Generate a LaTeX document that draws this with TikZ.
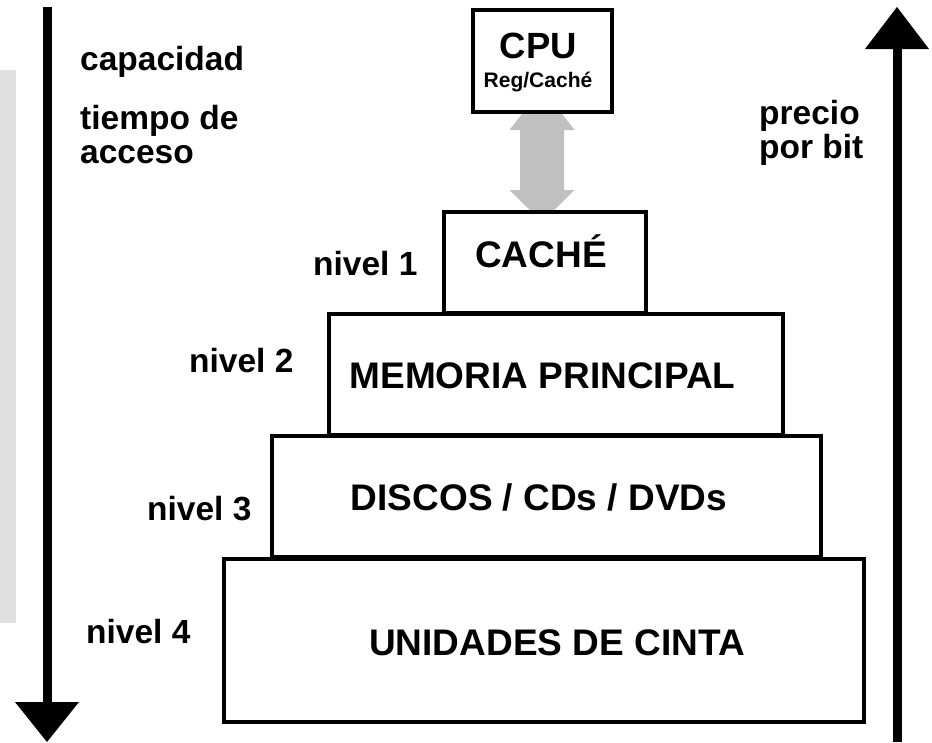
\documentclass[tikz,border=0pt]{standalone}
\usepackage{fontspec}
\setmainfont{Liberation Sans}
\usetikzlibrary{calc}
\definecolor{sidegray}{RGB}{224,224,224}
\definecolor{arrowgray}{RGB}{192,192,192}
\begin{document}
\begin{tikzpicture}[x=1pt,y=-1pt,
  box/.style={draw, line width=4pt, fill=white, inner sep=0pt, rectangle},
  lbl/.style={font=\bfseries\fontsize{33.5}{34}\selectfont, inner sep=0pt, anchor=base west},
  boxtxt/.style={font=\bfseries\fontsize{37}{37}\selectfont, inner sep=0pt, anchor=base},
  bigarrow/.style={line width=9pt}]
\useasboundingbox (0,0) rectangle (932,742);

% side gray band
\fill[sidegray] (0,70) rectangle (16,623);

% left arrow (down)
\coordinate (ltop) at (47,7);
\coordinate (lbase) at (47,702);
\coordinate (ltip) at (47,742);
\draw[bigarrow] (ltop) -- (lbase);
\fill ($(lbase)+(-32,0)$) -- ($(lbase)+(32,0)$) -- (ltip) -- cycle;

% right arrow (up)
\coordinate (rbot) at (897,742);
\coordinate (rbase) at (897,49);
\coordinate (rtip) at (897,7);
\draw[bigarrow] (rbot) -- (rbase);
\fill ($(rbase)+(-32,0)$) -- ($(rbase)+(32,0)$) -- (rtip) -- cycle;

% coordinates for boxes
\coordinate (cpuc) at (542.5,61);
\coordinate (cachec) at (545,262.5);

% gray double arrow (behind boxes)
\fill[arrowgray]
  (542,88) -- (574.5,130) -- (564,130) -- (564,190) -- (574.5,190)
  -- (542,222) -- (509.5,190) -- (520,190) -- (520,130) -- (509.5,130) -- cycle;

% boxes
\node[box, minimum width=640pt, minimum height=163pt] (cinta) at (544,640.5) {};
\node[box, minimum width=549pt, minimum height=121pt] (discos) at (546.5,496.5) {};
\node[box, minimum width=454pt, minimum height=121pt] (mem) at (556,374.5) {};
\node[box, minimum width=202pt, minimum height=101pt] (cache) at (cachec) {};
\node[box, minimum width=139pt, minimum height=102pt] (cpu) at (cpuc) {};

% box texts
\node[boxtxt, font=\bfseries\fontsize{36.5}{37}\selectfont] (cputxt) at (538.5,58) {CPU};
\node[boxtxt, font=\bfseries\fontsize{21}{21}\selectfont] (regtxt) at (538,87) {Reg/Caché};
\node[boxtxt] (cachetxt) at (541,267) {CACHÉ};
\node[boxtxt] (memtxt) at (542.5,388) {MEMORIA PRINCIPAL};
\node[boxtxt] (discostxt) at (539,510) {DISCOS / CDs / DVDs};
\node[boxtxt] (cintatxt) at (557,655) {UNIDADES DE CINTA};

% level labels
\node[lbl] (n1) at (313,275) {nivel 1};
\node[lbl] (n2) at (189,372) {nivel 2};
\node[lbl] (n3) at (147,520) {nivel 3};
\node[lbl] (n4) at (86,643) {nivel 4};

% side labels
\node[lbl] (cap) at (80,70) {capacidad};
\node[lbl] (tiempo) at (80,129) {tiempo de};
\node[lbl] (acceso) at (80,163) {acceso};
\node[lbl] (precio) at (759,124) {precio};
\node[lbl] (porbit) at (759,158) {por bit};
\end{tikzpicture}
\end{document}
